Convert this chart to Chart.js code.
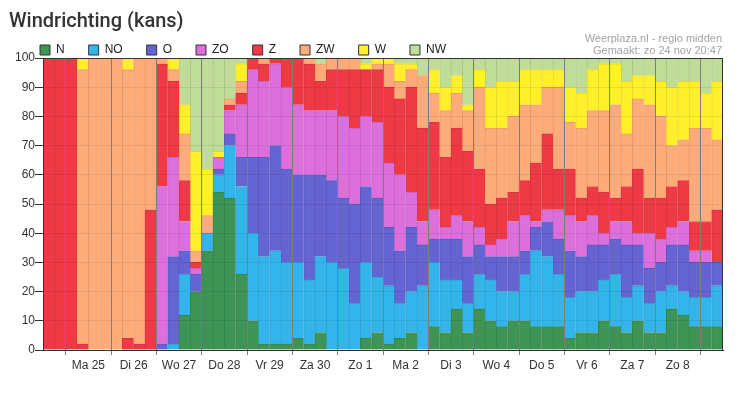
<!DOCTYPE html>
<html>
<head>
<meta charset="utf-8" />
<script src="https://cdn.jsdelivr.net/npm/chart.js@4/dist/chart.umd.min.js"></script>
<style>
body { margin: 0; background: #fff; }
</style>
</head>
<body>
<canvas id="myChart" width="756" height="394"></canvas>
<script>

// day labels (centre of each day, 4 bars per day, 6-hourly)
const days = ['Ma 25', 'Di 26', 'Wo 27', 'Do 28', 'Vr 29', 'Za 30', 'Zo 1',
              'Ma 2', 'Di 3', 'Wo 4', 'Do 5', 'Vr 6', 'Za 7', 'Zo 8'];

// chance per wind direction (%), 60 bars
const N  = [0,0,0,0,0,0,0,0,0,0, 0,0,12,20,34,54,52,26,10,2, 2,2,4,2,6,0,0,0,4,6, 2,4,6,0,8,6,14,6,14,10, 8,10,10,8,8,8,4,6,6,10, 8,6,10,6,6,14,12,8,8,8];
const NO = [0,0,0,0,0,0,0,0,0,0, 0,2,14,0,6,6,18,30,30,30, 32,28,26,22,26,30,28,16,26,19, 20,12,14,22,22,18,10,10,12,14, 12,10,16,26,24,18,14,14,14,14, 18,12,12,10,14,8,8,10,10,14];
const O  = [0,0,0,0,0,0,0,0,0,0, 2,30,8,6,0,2,4,10,26,34, 36,32,30,36,28,28,24,34,26,27, 20,18,22,14,8,14,14,16,10,8, 12,12,8,8,12,12,16,12,16,12, 12,18,14,12,10,14,16,12,12,8];
const ZO = [0,0,0,0,0,0,0,0,0,0, 54,34,10,2,0,4,8,18,30,26, 28,28,24,22,22,24,28,26,24,26, 22,26,12,8,10,4,8,12,6,4, 6,12,12,2,4,10,12,12,10,4, 6,8,4,12,8,6,8,4,4,0];
const Z  = [100,100,100,2,0,0,0,4,2,48, 42,26,14,2,0,0,2,4,4,6, 2,10,16,16,10,14,16,20,16,18, 26,26,36,32,30,24,30,24,20,14, 14,10,12,20,26,14,16,8,10,14, 8,12,22,12,14,14,14,10,10,18];
const ZW = [0,0,0,94,100,100,100,92,98,52, 2,4,16,4,6,0,2,4,0,2, 0,0,0,2,6,4,4,4,0,2, 8,6,6,18,10,16,12,14,28,26, 24,26,26,20,16,28,16,24,26,28, 32,18,24,32,28,14,14,32,32,24];
const W  = [0,0,0,4,0,0,0,4,0,0, 0,4,10,34,16,2,0,6,0,0, 0,0,0,0,0,0,0,0,2,2, 2,6,2,0,8,8,6,2,6,14, 16,12,12,12,6,6,12,12,14,16, 14,18,8,10,12,20,20,16,12,20];
const NW = [0,0,0,0,0,0,0,0,0,0, 0,0,16,32,38,32,14,2,0,0, 0,0,0,0,2,0,0,0,2,0, 0,2,2,6,4,10,6,16,4,10, 8,8,4,4,4,4,10,12,4,2, 2,8,6,6,8,10,8,8,12,8];

const names = ['N', 'NO', 'O', 'ZO', 'Z', 'ZW', 'W', 'NW'];
const values = [N, NO, O, ZO, Z, ZW, W, NW];
const colors = ['#3e9454', '#33b4ea', '#6464d3', '#dc6fdc', '#ee3a45', '#fdab79', '#fff02b', '#bfdc99'];

function darker(hex) {
	const n = parseInt(hex.slice(1), 16);
	const f = 0.9;
	const r = Math.round(((n >> 16) & 255) * f);
	const g = Math.round(((n >> 8) & 255) * f);
	const b = Math.round((n & 255) * f);
	return 'rgb(' + r + ',' + g + ',' + b + ')';
}

const isSep = (v) => (v - 2) % 4 === 0;
const font = { family: "'Liberation Sans', Arial, sans-serif", size: 12 };

const headerPlugin = {
	id: 'header_text',
	afterDraw: (chart) => {
		const {ctx, chartArea} = chart;
		ctx.save();
		ctx.fillStyle = '#333';
		ctx.font = "500 20px Roboto";
		ctx.textBaseline = 'alphabetic';
		ctx.textAlign = 'left';
		ctx.fillText('Windrichting (kans)', 9, 27);

		ctx.fillStyle = '#a3a3a3';
		ctx.font = "11px 'Liberation Sans'";
		ctx.textAlign = 'right';
		ctx.fillText('Weerplaza.nl - regio midden', 722, 42);
		ctx.fillText('Gemaakt: zo 24 nov 20:47', 722, 54);

		// frame top + right
		ctx.strokeStyle = '#333';
		ctx.lineWidth = 1;
		ctx.beginPath();
		ctx.moveTo(chartArea.left, Math.round(chartArea.top) + 0.5);
		ctx.lineTo(chartArea.right, Math.round(chartArea.top) + 0.5);
		ctx.moveTo(Math.round(chartArea.right) - 0.5, chartArea.top);
		ctx.lineTo(Math.round(chartArea.right) - 0.5, chartArea.bottom);
		ctx.stroke();
		ctx.restore();
	}
};

const ctx = document.getElementById('myChart');

new Chart(ctx, {
	type: 'bar',
	data: {
		datasets: names.map((name, k) => ({
			label: name,
			data: values[k].map((v, i) => ({ x: i + 0.5, y: v })),
			backgroundColor: colors[k],
			borderColor: darker(colors[k]),
			borderWidth: { top: 1, left: 1, right: 0, bottom: 0 },
			borderSkipped: false,
			barPercentage: 1,
			categoryPercentage: 1
		}))
	},
	options: {
		responsive: false,
		animation: false,
		layout: { padding: { left: 16, right: 33, top: 20, bottom: 20 } },
		plugins: {
			legend: {
				position: 'top',
				align: 'start',
				maxHeight: 38,
				labels: {
					boxWidth: 10,
					boxHeight: 10,
					padding: 24,
					color: '#222',
					font: font,
					generateLabels: (chart) => Chart.defaults.plugins.legend.labels.generateLabels(chart)
						.map(l => Object.assign(l, { strokeStyle: '#333', lineWidth: 1 }))
				},
				onClick: () => {}
			},
			tooltip: { enabled: false }
		},
		scales: {
			x: {
				type: 'linear',
				min: 0,
				max: 60,
				stacked: true,
				offset: false,
				afterBuildTicks: (scale) => {
					const t = [];
					for (let v = 2; v <= 58; v += 2) t.push({ value: v });
					scale.ticks = t;
				},
				afterFit: (scale) => { scale.height = 24; },
				grid: {
					offset: false,
					z: 1,
					color: (c) => isSep(c.tick.value) ? '#7d7d7d' : 'rgba(0,0,0,0)',
					tickColor: (c) => isSep(c.tick.value) ? '#7d7d7d' : 'rgba(0,0,0,0)',
					tickLength: 5
				},
				border: { color: '#333', z: 1 },
				ticks: {
					autoSkip: false,
					maxRotation: 0,
					padding: 3,
					color: '#333',
					font: font,
					callback: (v) => (v % 4 === 0 && v / 4 - 1 < days.length) ? days[v / 4 - 1] : ''
				}
			},
			y: {
				stacked: true,
				min: 0,
				max: 100,
				afterFit: (scale) => { scale.width = 27; },
				grid: {
					z: 1,
					color: 'rgba(0,0,0,0.07)',
					tickColor: '#333',
					tickLength: 8
				},
				border: { color: '#333', z: 1 },
				ticks: { stepSize: 10, padding: 0, color: '#333', font: font }
			}
		}
	},
	plugins: [headerPlugin]
});
</script>
</body>
</html>
